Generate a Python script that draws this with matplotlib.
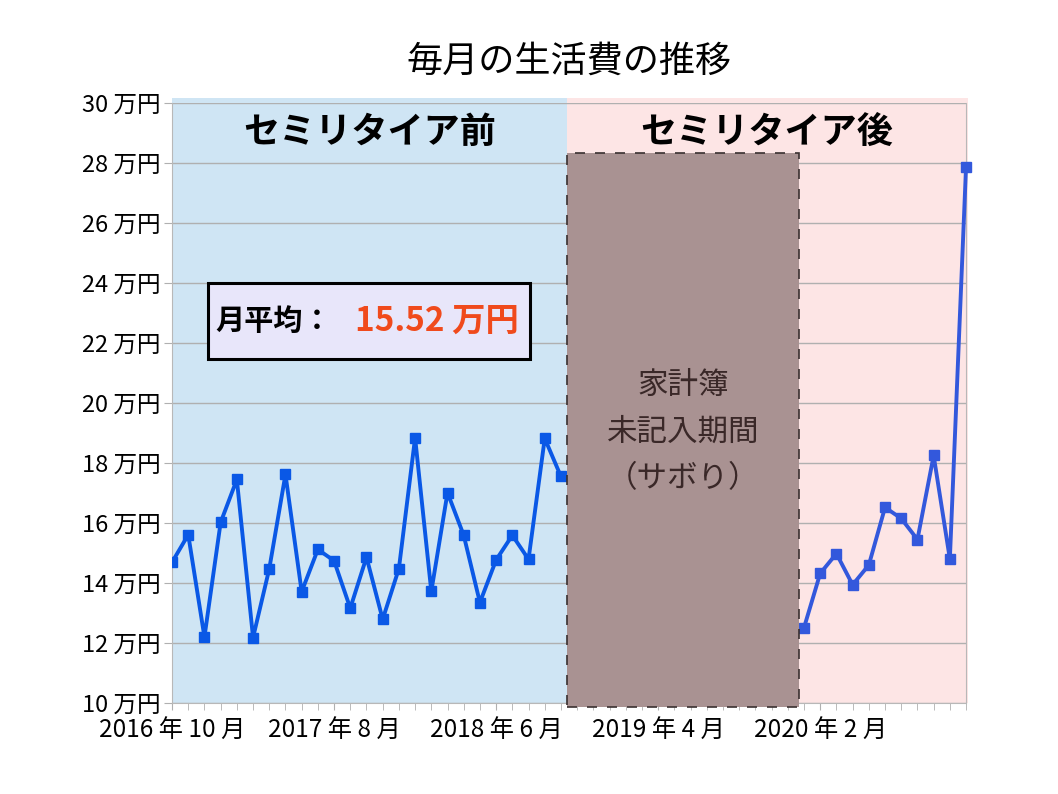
import matplotlib.pyplot as plt
from matplotlib.patches import Rectangle
import numpy as np

plt.rcParams['font.family'] = ['Noto Sans CJK JP', 'DejaVu Sans']

# 月ごとの生活費 (万円)、2016年10月から
before_months = list(range(0, 25))
before_values = [14.69, 15.61, 12.20, 16.02, 17.45, 12.18, 14.47, 17.62, 13.71, 15.12,
                 14.74, 13.16, 14.86, 12.79, 14.48, 18.84, 13.72, 17.01, 15.59, 13.35,
                 14.77, 15.59, 14.79, 18.82, 17.55]
after_months = list(range(39, 50))
after_values = [12.51, 14.32, 14.98, 13.94, 14.60, 16.52, 16.15, 15.45, 18.25, 14.80, 27.88]

tick_months = [0, 10, 20, 30, 40]
tick_labels = ['2016 年 10 月', '2017 年 8 月', '2018 年 6 月', '2019 年 4 月', '2020 年 2 月']
y_ticks = list(range(10, 31, 2))
average = 15.52

fig = plt.figure(figsize=(10.58, 7.94), dpi=100)
ax = fig.add_axes([0.1626, 0.1146, 0.7505, 0.7557])
ax.set_xlim(0, 49)
ax.set_ylim(10, 30)

# 背景 (前 / 後)
ax.add_patch(Rectangle((0, 10), 24.4, 20.15, facecolor='#cfe5f4', edgecolor='none',
                       zorder=0, clip_on=False))
ax.add_patch(Rectangle((24.4, 10), 24.75, 20.15, facecolor='#fde5e5', edgecolor='none',
                       zorder=0, clip_on=False))

ax.set_yticks(y_ticks)
ax.set_yticklabels([f'{v} 万円' for v in y_ticks], fontsize=17)
ax.set_xticks(tick_months)
ax.set_xticklabels(tick_labels, fontsize=17.5)
ax.set_xticks(range(0, 50), minor=True)
ax.tick_params(axis='x', which='both', length=5, color='#b0b0b0', pad=6)
ax.tick_params(axis='y', length=6, color='#b0b0b0', pad=2)
ax.grid(axis='y', color='#b0b0b0', linewidth=1, zorder=1)
ax.set_axisbelow(True)
for side in ['left', 'bottom', 'right', 'top']:
    ax.spines[side].set_color('#b8b8b8')
ax.spines['top'].set_visible(False)

ax.plot(before_months, before_values, color='#0a58e6', linewidth=2.8, marker='s',
        markersize=7.2, zorder=3)
ax.plot(after_months, after_values, color='#3358dc', linewidth=2.8, marker='s',
        markersize=7.2, zorder=3, clip_on=False)

# 家計簿未記入期間
ax.add_patch(Rectangle((24.4, 9.87), 14.3, 18.46, facecolor='#a99292', edgecolor='#3a3030',
                       linestyle=(0, (6, 6)), linewidth=1.2, zorder=4, clip_on=False))
ax.text(31.55, 19.03, '家計簿\n未記入期間\n（サボり）', ha='center', va='center', fontsize=22,
        color='#3a2828', linespacing=1.65, zorder=5)

ax.text(12.2, 29.02, 'セミリタイア前', ha='center', va='center', fontsize=26,
        fontweight='bold', zorder=5)
ax.text(36.7, 29.02, 'セミリタイア後', ha='center', va='center', fontsize=26,
        fontweight='bold', zorder=5)

# 月平均ボックス
ax.add_patch(Rectangle((2.2, 21.45), 19.9, 2.55, facecolor='#e8e6fa', edgecolor='black',
                       linewidth=2.2, zorder=5))
ax.text(2.65, 22.72, '月平均：', ha='left', va='center', fontsize=21, fontweight='bold',
        zorder=6)
ax.text(11.3, 22.72, f'{average:.2f} 万円', ha='left', va='center', fontsize=24,
        fontweight='bold', color='#f04a1c', zorder=6)

fig.text(0.538, 0.922, '毎月の生活費の推移', ha='center', va='center', fontsize=26)

fig.savefig('out.png', dpi=100)
